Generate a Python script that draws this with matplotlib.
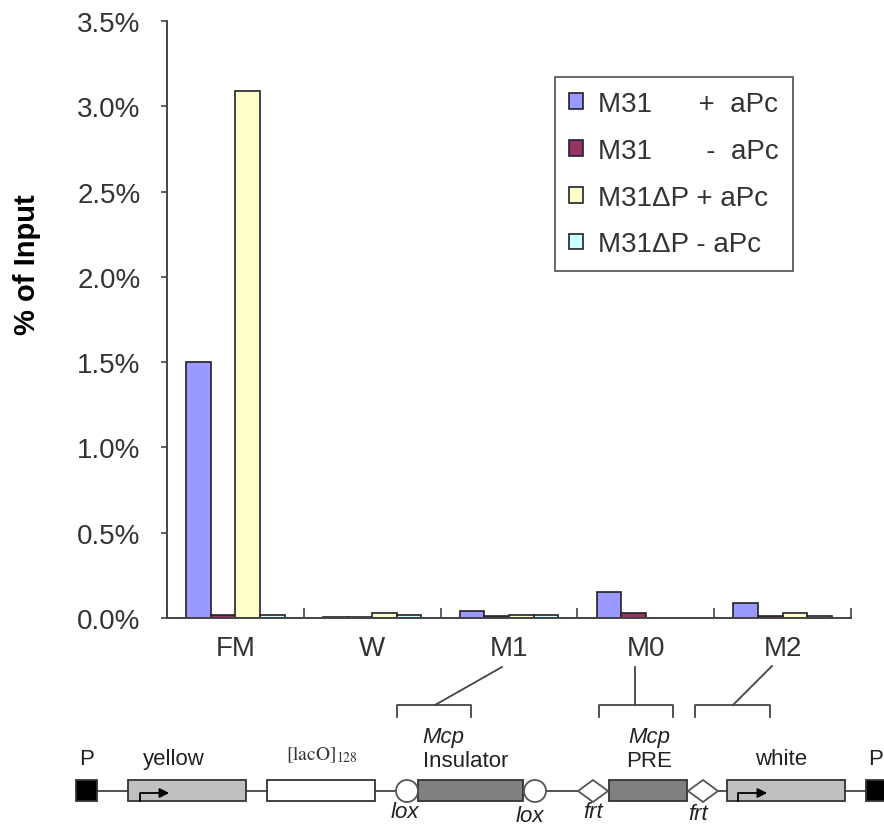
import numpy as np
import matplotlib
matplotlib.use("Agg")
import matplotlib.pyplot as plt
from matplotlib.patches import Rectangle, Circle, Polygon

# data (percent of input)
sites = ["FM", "W", "M1", "M0", "M2"]
series = ["M31      +  aPc", "M31       -  aPc", "M31\u0394P + aPc", "M31\u0394P - aPc"]
m31_plus = [1.50, 0.005, 0.04, 0.15, 0.09]
m31_minus = [0.02, 0.005, 0.01, 0.03, 0.01]
dp_plus = [3.09, 0.03, 0.02, 0.0, 0.03]
dp_minus = [0.02, 0.02, 0.02, 0.0, 0.01]
colors = ["#9999FF", "#993366", "#FFFFCC", "#CCFFFF"]
yticks = [0.0, 0.5, 1.0, 1.5, 2.0, 2.5, 3.0, 3.5]

plt.rcParams["font.family"] = ["Liberation Sans", "DejaVu Sans"]

W, H = 884, 828
fig = plt.figure(figsize=(W / 100, H / 100), dpi=100)
ax = fig.add_axes([167 / W, 1 - 619 / H, (851 - 167) / W, (619 - 22) / H])

x = np.arange(len(sites))
bw = 0.18
for i, vals in enumerate([m31_plus, m31_minus, dp_plus, dp_minus]):
    ax.bar(x + (i - 1.5) * bw, vals, bw, color=colors[i], edgecolor="#222222",
           linewidth=1.2, label=series[i])

ax.set_xlim(-0.5, len(sites) - 0.5)
ax.set_ylim(0, 3.5)
ax.set_yticks(yticks)
ax.set_yticklabels(["%.1f%%" % v for v in yticks])
ax.set_xticks(x)
ax.set_xticklabels(sites)
ax.set_xticks(np.arange(-0.5, len(sites)), minor=True)
ax.tick_params(axis="x", which="major", length=0, pad=12, labelsize=20, labelcolor="#333333")
ax.tick_params(axis="x", which="minor", direction="in", length=7, width=1.2, color="#444444")
ax.tick_params(axis="y", length=4, width=1.2, color="#444444", labelsize=20,
               labelcolor="#333333", pad=15)
for s in ["top", "right"]:
    ax.spines[s].set_visible(False)
for s in ["left", "bottom"]:
    ax.spines[s].set_color("#444444")
    ax.spines[s].set_linewidth(1.4)
ax.set_ylabel("% of Input", fontsize=21, fontweight="bold")
ax.yaxis.set_label_coords((41 - 167) / (851 - 167), (619 - 265) / (619 - 22))

leg = ax.legend(loc="upper left", bbox_to_anchor=((555 - 167) / (851 - 167), 1 - (78 - 22) / (619 - 22)),
                fontsize=20, frameon=True, fancybox=False, handlelength=0.5, handleheight=0.5,
                handletextpad=0.55, labelspacing=0.75, borderpad=0.5, borderaxespad=0)
leg.get_frame().set_edgecolor("#333333")
leg.get_frame().set_linewidth(1.3)
for t in leg.get_texts():
    t.set_color("#333333")

# construct diagram below the chart, drawn in pixel coordinates
d = fig.add_axes([0, 0, 1, 1])
d.set_xlim(0, W)
d.set_ylim(H, 0)
d.axis("off")

ly = 792
d.plot([76, 884], [ly, ly], color="#444444", lw=1.3, zorder=1)
box = dict(edgecolor="#333333", linewidth=1.3, zorder=3)
d.add_patch(Rectangle((76, 781), 21, 21, facecolor="black", **box))
d.add_patch(Rectangle((866, 781), 20, 21, facecolor="black", **box))
d.add_patch(Rectangle((128, 781), 118, 21, facecolor="#C0C0C0", **box))
d.add_patch(Rectangle((267, 781), 108, 21, facecolor="white", **box))
d.add_patch(Rectangle((418, 781), 105, 21, facecolor="#808080", **box))
d.add_patch(Rectangle((609, 781), 78, 21, facecolor="#808080", **box))
d.add_patch(Rectangle((727, 781), 118, 21, facecolor="#C0C0C0", **box))
for cx in [407, 535]:
    d.add_patch(Circle((cx, ly), 11, facecolor="white", edgecolor="#555555", lw=1.3, zorder=4))
for cx in [593, 703]:
    d.add_patch(Polygon([(cx - 15, ly), (cx, ly - 11), (cx + 15, ly), (cx, ly + 11)],
                        closed=True, facecolor="white", edgecolor="#555555", lw=1.3, zorder=4))

# promoter arrows
for x0 in [140, 738]:
    d.plot([x0, x0, x0 + 22], [802, 794, 794], color="black", lw=1.3, zorder=5)
    d.annotate("", xy=(x0 + 32, 794), xytext=(x0 + 20, 794),
               arrowprops=dict(arrowstyle="-|>", color="black", lw=1.3, mutation_scale=14), zorder=5)

tk = dict(fontsize=16, color="#222222", ha="center", va="center")
d.text(87, 760, "P", **tk)
d.text(876, 760, "P", **tk)
d.text(174, 760, "yellow", **tk)
d.text(466, 762, "Insulator", **tk)
d.text(443, 738, "Mcp", style="italic", **tk)
d.text(649, 762, "PRE", **tk)
d.text(649, 738, "Mcp", style="italic", **tk)
d.text(781, 760, "white", **tk)
for cx, cy, s in [(405, 813, "lox"), (530, 817, "lox"), (593, 813, "frt"), (698, 815, "frt")]:
    d.text(cx, cy, s, style="italic", **tk)
d.text(322, 755, r"$\left[\mathrm{lacO}\right]_{128}$", fontsize=14, color="#333333",
       ha="center", va="center", math_fontfamily="stix")

# brackets linking fragments to the amplicons
br = dict(color="#444444", lw=1.3)
for x0, x1, lx, ly2, ex in [(397, 471, 435, 668, 502), (599, 673, 635, 668, 635), (695, 770, 733, 667, 772)]:
    d.plot([x0, x0, x1, x1], [718, 706, 706, 718], **br)
    d.plot([lx, ex], [706, ly2], **br)

fig.savefig("out.png", dpi=100)
